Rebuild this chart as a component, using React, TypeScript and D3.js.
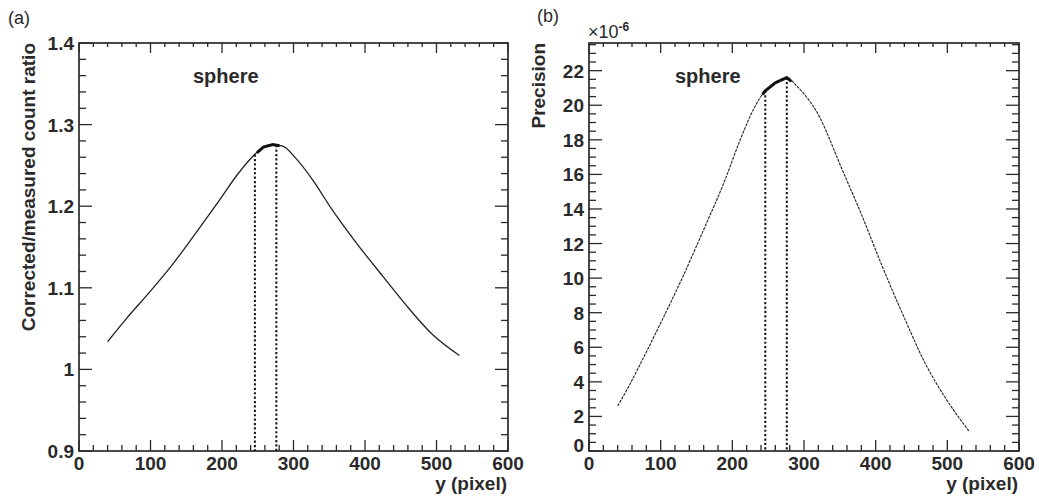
import React from "react";
import * as d3 from "d3";

// ---------- data ----------
const xTicks = [0, 100, 200, 300, 400, 500, 600];
const ticksA = [0.9, 1, 1.1, 1.2, 1.3, 1.4];
const ticksB = [0, 2, 4, 6, 8, 10, 12, 14, 16, 18, 20, 22];

const xA = [40, 66, 99, 132, 164, 197, 220, 243, 258, 271, 285, 304, 327, 353, 387, 425, 462, 494, 532];
const yA = [1.034, 1.062, 1.095, 1.130, 1.168, 1.208, 1.237, 1.261, 1.2725, 1.2755, 1.2735, 1.258, 1.232, 1.197, 1.156, 1.114, 1.074, 1.043, 1.017];

const xB = [40, 55, 70, 100, 130, 160, 190, 211, 230, 245, 260, 276, 290, 305, 322, 332, 350, 380, 410, 440, 470, 500, 530];
const yB = [2.6, 3.7, 4.9, 7.4, 10.0, 12.8, 15.7, 18.0, 19.8, 20.8, 21.3, 21.6, 21.1, 20.4, 19.3, 18.4, 16.6, 13.7, 10.6, 7.7, 5.0, 2.9, 1.16];

const markers = [246, 276];
const peakRangeA = [250, 279];
const peakRangeB = [243, 281];

const FONT = "'Liberation Sans', Arial, Helvetica, sans-serif";
const INK = "#2a2a2a";

type PanelProps = {
  left: number; right: number; top: number; bottom: number;
  yDomain: [number, number]; yMajor: number[]; yMinorStep: number;
  xs: number[]; ys: number[]; peak: number[];
  yFmt: (v: number) => string; yTitle: string; tag: string;
  sphereX: number; dashedCurve: boolean; tagX: number; tagY: number;
  multiplier?: boolean; zeroShift?: number;
};

function Panel(p: PanelProps) {
  const x = d3.scaleLinear().domain([0, 600]).range([p.left, p.right]);
  const y = d3.scaleLinear().domain(p.yDomain).range([p.bottom, p.top]);
  const interp = d3.scaleLinear().domain(p.xs).range(p.ys);
  const pts: [number, number][] = p.xs.map((v, i) => [v, p.ys[i]]);
  const line = d3.line<[number, number]>().x(d => x(d[0])).y(d => y(d[1])).curve(d3.curveMonotoneX);
  const peakPts: [number, number][] = d3.range(p.peak[0], p.peak[1] + 0.1, 1).map(v => [v, interp(v)]);

  const xMinor = d3.range(0, 600.01, 20);
  const yMinor = d3.range(p.yDomain[0], p.yDomain[1] + 1e-9, p.yMinorStep);
  const isMajorY = (v: number) => p.yMajor.some(m => Math.abs(m - v) < 1e-6);
  const isMajorX = (v: number) => Math.abs(v % 100) < 1e-6;

  return (
    <g>
      {xMinor.map(v => {
        const M = isMajorX(v);
        return (
          <g key={"xt" + v} stroke={INK} strokeWidth={1.3}>
            <line x1={x(v)} x2={x(v)} y1={p.bottom} y2={p.bottom - (M ? 11 : 6)} />
            <line x1={x(v)} x2={x(v)} y1={p.top} y2={p.top + (M ? 10 : 4)} />
          </g>
        );
      })}
      {yMinor.map(v => {
        const M = isMajorY(v);
        return (
          <g key={"yt" + v} stroke={INK} strokeWidth={1.3}>
            <line x1={p.left} x2={p.left + (M ? 13 : 7)} y1={y(v)} y2={y(v)} />
            <line x1={p.right} x2={p.right - (M ? 13 : 7)} y1={y(v)} y2={y(v)} />
          </g>
        );
      })}
      <rect x={p.left} y={p.top} width={p.right - p.left} height={p.bottom - p.top} fill="none" stroke={INK} strokeWidth={1.7} />
      {xTicks.map(v => (
        <text key={"xl" + v} x={x(v)} y={p.bottom + 19} textAnchor="middle" fontFamily={FONT} fontWeight="bold" fontSize={19} fill={INK}>{v}</text>
      ))}
      {p.yMajor.map(v => (
        <text key={"yl" + v} x={p.left - 5} y={y(v) + 7 - (v === 0 ? (p.zeroShift || 0) : 0)} textAnchor="end" fontFamily={FONT} fontWeight="bold" fontSize={19} fill={INK}>{p.yFmt(v)}</text>
      ))}
      <text x={p.right - 1} y={p.bottom + 39} textAnchor="end" fontFamily={FONT} fontWeight="bold" fontSize={19} fill={INK}>y (pixel)</text>
      <text transform={`translate(${p.left - 44},${p.top}) rotate(-90)`} textAnchor="end" fontFamily={FONT} fontWeight="bold" fontSize={19} fill={INK}>{p.yTitle}</text>
      {p.multiplier && (
        <text x={p.left - 1} y={p.top - 5} fontFamily={FONT} fontSize={18} fill={INK}>
          ×10<tspan dy={-7} fontSize={12} fontWeight="bold">-6</tspan>
        </text>
      )}
      <text x={p.tagX} y={p.tagY} fontFamily={FONT} fontSize={18} fill={INK}>{p.tag}</text>
      <text x={p.sphereX} y={83} fontFamily={FONT} fontWeight="bold" fontSize={20} fill={INK}>sphere</text>
      {markers.map(m => (
        <line key={"m" + m} x1={x(m)} x2={x(m)} y1={y(interp(m))} y2={p.bottom} stroke="#111" strokeWidth={2} strokeDasharray="2.2,2.2" />
      ))}
      <path d={line(pts) || ""} fill="none" stroke="#222" strokeWidth={p.dashedCurve ? 1.1 : 1.3} strokeDasharray={p.dashedCurve ? "3,1" : undefined} />
      <path d={line(peakPts) || ""} fill="none" stroke="#111" strokeWidth={3} strokeLinecap="round" />
    </g>
  );
}

export default function App() {
  return (
    <div style={{ position: "absolute", left: 0, top: 0 }}>
      <svg width={1039} height={502} style={{ display: "block", background: "#fff" }}>
        <Panel left={79} right={508} top={43} bottom={451} yDomain={[0.9, 1.4]} yMajor={ticksA} yMinorStep={0.02}
          xs={xA} ys={yA} peak={peakRangeA} yFmt={v => (v === 1 ? "1" : d3.format(".1f")(v))}
          yTitle="Corrected/measured count ratio" tag="(a)" sphereX={193} dashedCurve={false} tagX={8} tagY={24} />
        <Panel left={589} right={1019} top={43} bottom={451} yDomain={[0, 23.6]} yMajor={ticksB} yMinorStep={0.5}
          xs={xB} ys={yB} peak={peakRangeB} yFmt={v => String(v)}
          yTitle="Precision" tag="(b)" sphereX={675} dashedCurve={true} tagX={537} tagY={22} multiplier zeroShift={6} />
      </svg>
    </div>
  );
}
